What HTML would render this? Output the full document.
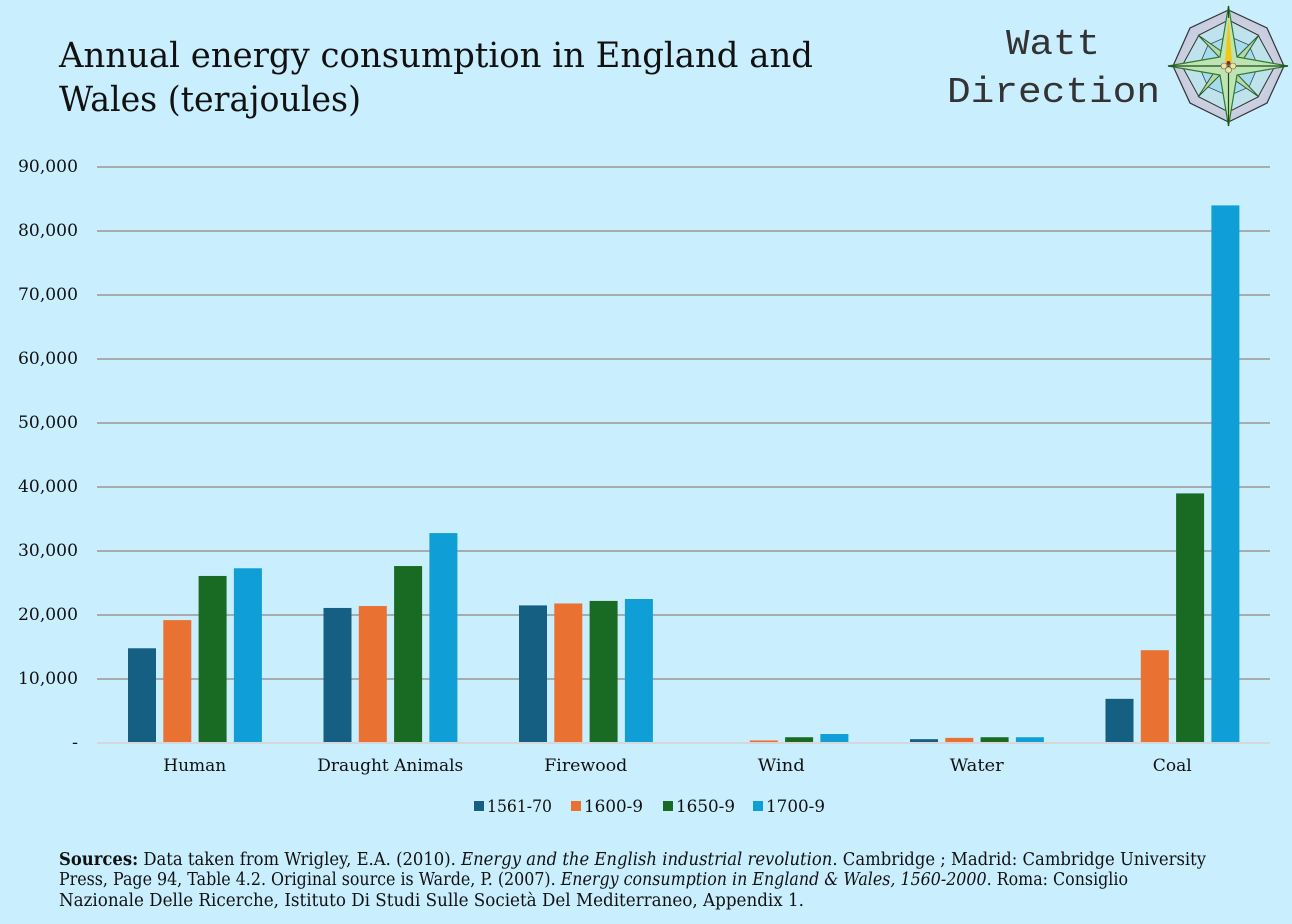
<!DOCTYPE html>
<html lang="en">
<head>
<meta charset="utf-8">
<title>Annual energy consumption in England and Wales</title>
<style>
html,body{margin:0;padding:0;background:#c9eefd;}
svg{display:block;}
text{fill:#111;font-family:"DejaVu Serif","Liberation Serif",serif;}
.tick{font-size:16.5px;}
.foot{font-size:17.5px;}
</style>
</head>
<body>
<svg id="chart" xmlns="http://www.w3.org/2000/svg" width="1292" height="924" viewBox="0 0 1292 924">
  <defs>
    <radialGradient id="band-fill" cx="50%" cy="50%" r="50%">
      <stop offset="0%" stop-color="#dcefd8"/>
      <stop offset="100%" stop-color="#c6c8e2"/>
    </radialGradient>
  </defs>
  <rect width="1292" height="924" fill="#c9eefd"/>
  <g>
    <text x="59" y="67" font-size="35" textLength="754" lengthAdjust="spacingAndGlyphs">Annual energy consumption in England and</text>
    <text x="59" y="111" font-size="35" textLength="302" lengthAdjust="spacingAndGlyphs">Wales (terajoules)</text>
  </g>
  <g>
    <text x="1006" y="54" style="font-family:'Liberation Mono',monospace;fill:#333" font-size="36" textLength="94" lengthAdjust="spacingAndGlyphs">Watt</text>
    <text x="947" y="102" style="font-family:'Liberation Mono',monospace;fill:#333" font-size="36" textLength="213" lengthAdjust="spacingAndGlyphs">Direction</text>
  </g>
  <g>
    <polygon points="1228.5,10 1267,28 1284,66 1267,103 1228.5,122 1190,103 1173,66 1190,28" fill="url(#band-fill)" stroke="#333" stroke-width="1.2"/>
    <polygon points="1228.5,20 1258,35 1275,66 1258,97 1228.5,112 1199,97 1182,66 1199,35" fill="#bfe3ec" stroke="#333" stroke-width="1"/>
    <polygon points="1228.5,36 1249,45 1258,66 1249,87 1228.5,96 1208,87 1199,66 1208,45" fill="#a6dcee" stroke="#2b4a55" stroke-width="0.8"/>
    <polygon points="1198,35 1234,60 1259,35 1235,72 1259,97 1223,72 1198,97 1222,60" fill="#b4d8a8" stroke="#2c5a2c" stroke-width="1"/>
    <polygon points="1228.5,6 1237,57 1288,66 1237,75 1228.5,126 1220,75 1168,66 1220,57" fill="#bfe4b4" stroke="#2f7a2f" stroke-width="1.2"/>
    <line x1="1168" y1="66" x2="1288" y2="66" stroke="#1c4a1c" stroke-width="1.2"/>
    <line x1="1228.5" y1="66" x2="1228.5" y2="126" stroke="#1c4a1c" stroke-width="1.2"/>
    <line x1="1228.5" y1="6" x2="1228.5" y2="18" stroke="#1c4a1c" stroke-width="1.2"/>
    <polygon points="1228.5,17 1232,62 1225,62" fill="#f0c818"/>
    <circle cx="1224" cy="66" r="3" fill="#f3e3a0" stroke="#665" stroke-width="0.6"/>
    <circle cx="1233" cy="66" r="3" fill="#f3e3a0" stroke="#665" stroke-width="0.6"/>
    <circle cx="1228.5" cy="70" r="3" fill="#f3e3a0" stroke="#665" stroke-width="0.6"/>
    <circle cx="1228.5" cy="63" r="2" fill="#8a2a1a"/>
  </g>
  <g id="grid"></g>
  <g id="yticks"></g>
  <g id="bars"></g>
  <g id="xticks"></g>
  <g id="legend"></g>
  <g>
    <text class="foot" x="59" y="865" textLength="1147" lengthAdjust="spacingAndGlyphs"><tspan font-weight="bold">Sources:</tspan> Data taken from Wrigley, E.A. (2010). <tspan font-style="italic">Energy and the English industrial revolution</tspan>. Cambridge ; Madrid: Cambridge University</text>
    <text class="foot" x="59" y="885" textLength="1069" lengthAdjust="spacingAndGlyphs">Press, Page 94, Table 4.2. Original source is Warde, P. (2007). <tspan font-style="italic">Energy consumption in England &amp; Wales, 1560-2000</tspan>. Roma: Consiglio</text>
    <text class="foot" x="59" y="906" textLength="745" lengthAdjust="spacingAndGlyphs">Nazionale Delle Ricerche, Istituto Di Studi Sulle Societa&#768; Del Mediterraneo, Appendix 1.</text>
  </g>
</svg>
<script>
const categories = ["Human", "Draught Animals", "Firewood", "Wind", "Water", "Coal"];
const seriesNames = ["1561-70", "1600-9", "1650-9", "1700-9"];
const values1561 = [14800, 21100, 21500, 0, 600, 6900];
const values1600 = [19200, 21400, 21800, 400, 800, 14500];
const values1650 = [26100, 27650, 22200, 900, 900, 39000];
const values1700 = [27300, 32800, 22500, 1400, 900, 84000];
const yTicks = [0, 10000, 20000, 30000, 40000, 50000, 60000, 70000, 80000, 90000];
const yTickLabels = ["-", "10,000", "20,000", "30,000", "40,000", "50,000", "60,000", "70,000", "80,000", "90,000"];

const allSeries = [values1561, values1600, values1650, values1700];
const colors = ["#156082", "#e97132", "#196b24", "#0f9ed5"];
const NS = "http://www.w3.org/2000/svg";
const plotLeft = 97, plotRight = 1270, plotBottom = 743, plotTop = 167, yMax = 90000;
const barW = 28, barStep = 35.3;

function yScale(v) { return plotBottom - (v / yMax) * (plotBottom - plotTop); }
function xBand(i) { return plotLeft + (i + 0.5) * (plotRight - plotLeft) / categories.length; }
function make(tag, attrs, parent) {
  const el = document.createElementNS(NS, tag);
  for (const k in attrs) el.setAttribute(k, attrs[k]);
  parent.appendChild(el);
  return el;
}

const grid = document.getElementById("grid");
const yticks = document.getElementById("yticks");
yTicks.forEach(function (t, i) {
  const line = make("line", { x1: plotLeft, x2: plotRight, y1: yScale(t), y2: yScale(t), stroke: t === 0 ? "#d4d8da" : "#a9abac", "stroke-width": 2 }, grid);
  
  
  const label = make("text", { x: t === 0 ? 72 : 18, y: yScale(t) + 5, class: "tick", textLength: t === 0 ? 6 : 60, lengthAdjust: "spacingAndGlyphs" }, yticks);
  label.textContent = yTickLabels[i];
  
  
});

const barsG = document.getElementById("bars");
allSeries.forEach(function (vals, s) {
  vals.forEach(function (v, c) {
    const x = xBand(c) - 66.75 + s * barStep;
    const bar = make("rect", { x: x, y: yScale(v), width: barW, height: plotBottom - yScale(v) - 1, fill: colors[s] }, barsG);
    
    
  });
});

const xticks = document.getElementById("xticks");
const xLabelWidths = [63, 146, 83, 47, 54, 39];
categories.forEach(function (name, i) {
  const label = make("text", { x: xBand(i) - xLabelWidths[i] / 2, y: 771, class: "tick", textLength: xLabelWidths[i], lengthAdjust: "spacingAndGlyphs" }, xticks);
  label.textContent = name;
  
  
});

const legend = document.getElementById("legend");
const legendX = [474, 571, 663, 753];
const legendW = [65, 59, 59, 59];
seriesNames.forEach(function (name, i) {
  const swatch = make("rect", { x: legendX[i], y: 801, width: 10, height: 10, fill: colors[i] }, legend);
  
  
  const label = make("text", { x: legendX[i] + 13, y: 812, class: "tick", textLength: legendW[i], lengthAdjust: "spacingAndGlyphs" }, legend);
  label.textContent = name;
  
  
});
</script>
</body>
</html>
